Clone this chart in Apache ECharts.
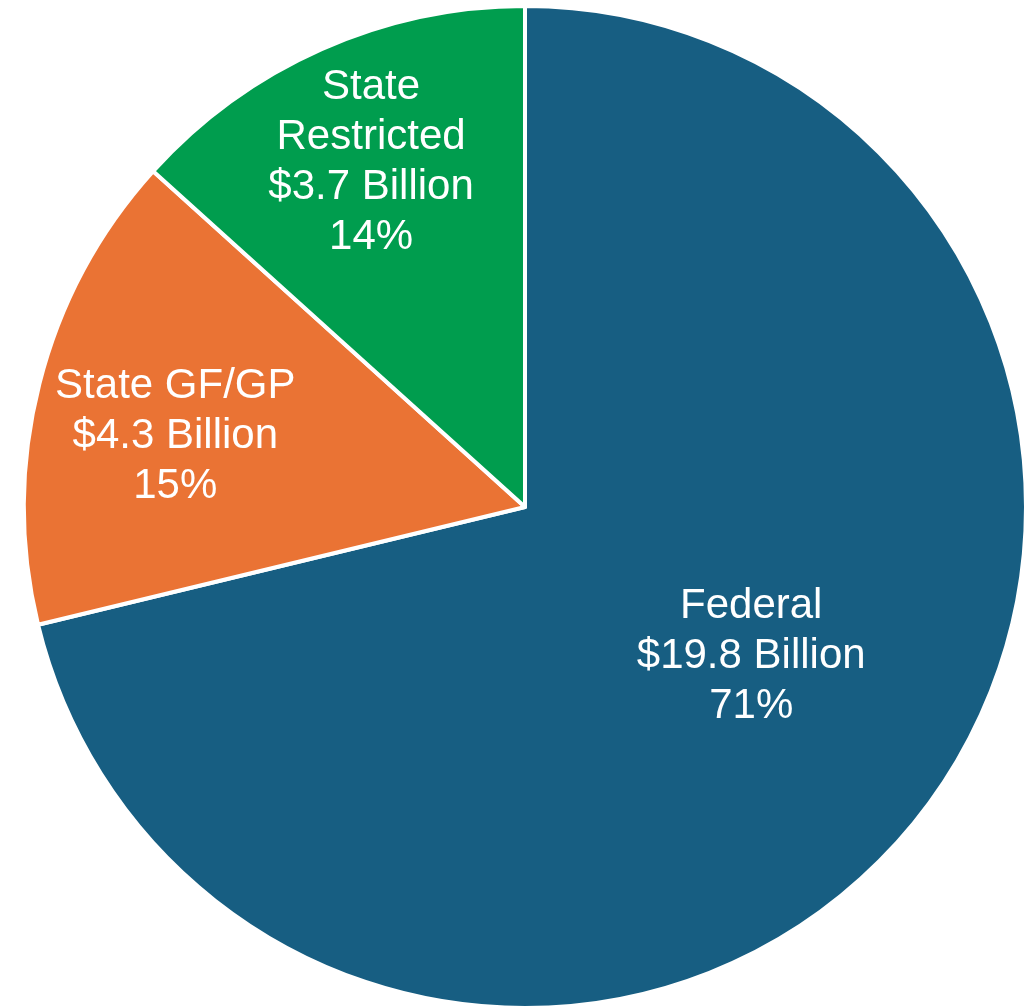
<!DOCTYPE html>
<html>
<head>
<meta charset="utf-8">
<style>
  html, body { margin: 0; padding: 0; background: #ffffff; }
  #chart { width: 1033px; height: 1006px; }
</style>
<script src="https://cdn.jsdelivr.net/npm/echarts@6/dist/echarts.min.js"></script>
</head>
<body>
<div id="chart"></div>
<script>
// Funding sources (billions of dollars)
const categories = ['Federal', 'State GF/GP', 'State Restricted'];
const labelNames = ['Federal', 'State GF/GP', 'State\nRestricted'];
const amounts = [19.8, 4.3, 3.7];
const shareLabels = ['71%', '15%', '14%'];
const sliceColors = ['#175E82', '#EA7334', '#009D4E'];
// nudges that move each label from the slice's mid-radius point
const labelOffsets = [[27, -7], [-104, -8], [-51, -113]];

const chart = echarts.init(document.getElementById('chart'), null, { renderer: 'canvas' });

const data = categories.map((name, i) => ({
  name: name,
  value: amounts[i],
  itemStyle: { color: sliceColors[i] },
  label: {
    offset: labelOffsets[i],
    formatter: labelNames[i] + '\n$' + amounts[i].toFixed(1) + ' Billion\n' + shareLabels[i]
  }
}));

chart.setOption({
  backgroundColor: '#ffffff',
  animation: false,
  series: [{
    type: 'pie',
    center: [525, 507],
    radius: [0, 501],
    startAngle: 90,
    clockwise: true,
    avoidLabelOverlap: false,
    itemStyle: { borderColor: '#ffffff', borderWidth: 4 },
    label: {
      show: true,
      position: 'inside',
      color: '#ffffff',
      fontFamily: '"Liberation Sans", Arial, sans-serif',
      fontSize: 42,
      lineHeight: 50,
      align: 'center'
    },
    labelLine: { show: false },
    emphasis: { disabled: true },
    data: data
  }]
});
</script>
</body>
</html>
